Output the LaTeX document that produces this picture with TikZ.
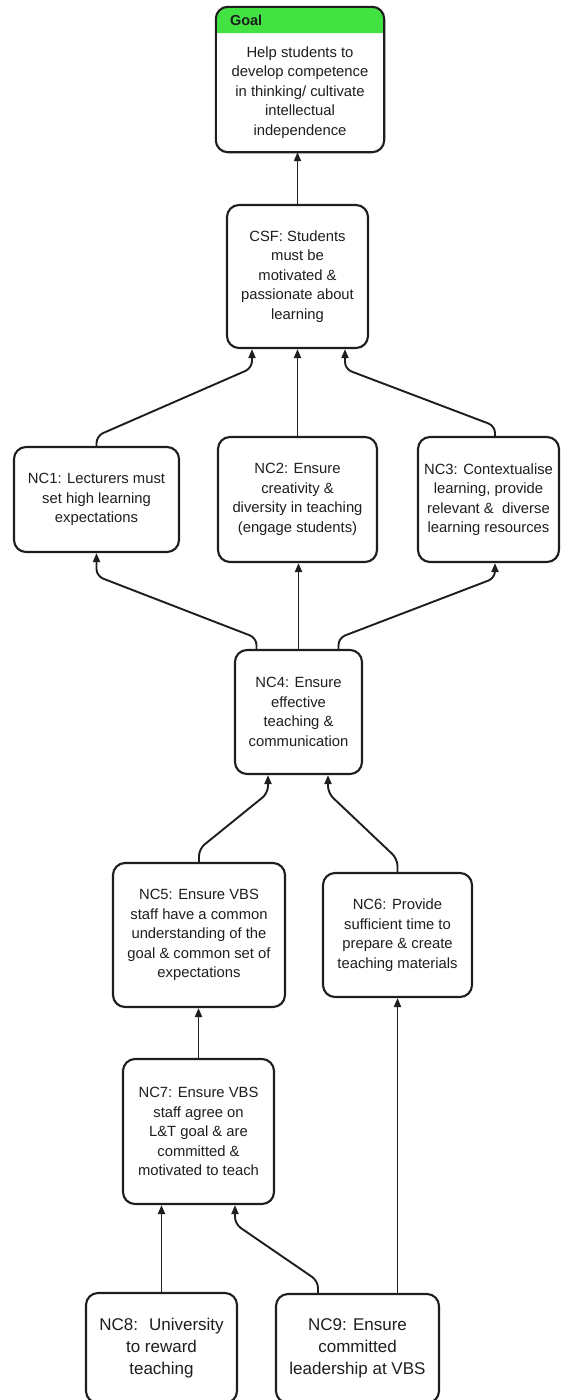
\documentclass[tikz,border=0pt]{standalone}
\usepackage{fontspec}
\setmainfont{Liberation Sans}
\usetikzlibrary{arrows.meta,calc}
\definecolor{ink}{RGB}{30,30,30}
\definecolor{hdrgreen}{RGB}{66,226,66}
\begin{document}
\begin{tikzpicture}[x=1pt,y=-1pt,
  box/.style={draw=ink, line width=2.1pt, rounded corners=12pt, fill=white,
    align=center, text=ink, inner sep=0pt,
    font=\fontsize{14.8}{19.5}\selectfont},
  bigtext/.style={font=\fontsize{17}{22}\selectfont},
  plain/.style={align=center, text=ink, inner sep=0pt,
    font=\fontsize{14.8}{19.5}\selectfont},
  conn/.style={draw=ink, line width=1.9pt, rounded corners=7pt,
    -{Triangle[length=9pt,width=7pt]}},
]
% canvas
\fill[white] (0,0) rectangle (561,1400);
\useasboundingbox (0,0) rectangle (561,1400);

% goal box: green title bar over a text body
\node[plain, minimum width=168pt, minimum height=119pt] (goal) at (300,92.5)
  {Help students to\\develop competence\\in thinking/ cultivate\\intellectual\\independence};
\node[inner sep=0pt, minimum width=168pt, minimum height=26pt] (goalhead) at (300,20) {};
\fill[hdrgreen, rounded corners=12pt] (goalhead.south west) -- (goalhead.north west)
  -- (goalhead.north east) -- (goalhead.south east);
\draw[ink, line width=2.1pt, rounded corners=12pt] (goalhead.north west) rectangle (goal.south east);
\node[anchor=west, inner sep=0pt, text=ink, font=\fontsize{14.5}{17}\selectfont\bfseries]
  (goallabel) at ($(goalhead.west)+(14,0)$) {Goal};

% critical success factor and necessary conditions
\node[box, minimum width=141pt, minimum height=143pt] (csf) at (297.5,276.5)
  {CSF: Students\\must be\\motivated \&\\passionate about\\learning};
\node[box, minimum width=165pt, minimum height=105pt] (nc1) at (96.5,499.5)
  {NC1: Lecturers must\\set high learning\\expectations};
\node[box, minimum width=159pt, minimum height=125pt] (nc2) at (297.5,499.5)
  {NC2: Ensure\\creativity \&\\diversity in teaching\\(engage students)};
\node[box, minimum width=141pt, minimum height=125pt] (nc3) at (488.5,499.5)
  {NC3: Contextualise\\learning, provide\\relevant \&~ diverse\\learning resources};
\node[box, minimum width=127pt, minimum height=124pt] (nc4) at (298.5,712)
  {NC4: Ensure\\effective\\teaching \&\\communication};
\node[box, minimum width=172pt, minimum height=144pt] (nc5) at (199,935)
  {NC5: Ensure VBS\\staff have a common\\understanding of the\\goal \& common set of\\expectations};
\node[box, minimum width=149pt, minimum height=124pt] (nc6) at (397.5,935)
  {NC6: Provide\\sufficient time to\\prepare \& create\\teaching materials};
\node[box, minimum width=151pt, minimum height=145pt] (nc7) at (198.5,1131.5)
  {NC7: Ensure VBS\\staff agree on\\L\&T goal \& are\\committed \&\\motivated to teach};
\node[box, bigtext, minimum width=151pt, minimum height=110pt] (nc8) at (161.5,1348)
  {NC8:~ University\\to reward\\teaching};
\node[box, bigtext, minimum width=163pt, minimum height=109pt] (nc9) at (357.5,1348.5)
  {NC9: Ensure\\committed\\leadership at VBS};

% connectors
\draw[conn] (csf.north) -- (csf.north |- goal.south);

\draw[conn] (nc1.north) -- ++(0,-10) -- ($(csf.south)+(-45.5,19)$) -- ($(csf.south)+(-45.5,0)$);
\draw[conn] (nc2.north) -- (nc2.north |- csf.south);
\draw[conn] ($(nc3.north)+(6.5,0)$) -- ++(0,-10) -- ($(csf.south)+(47.5,20)$) -- ($(csf.south)+(47.5,0)$);

\draw[conn] ($(nc4.north)+(-42,0)$) -- ++(0,-11) -- ($(nc1.south)+(0,23)$) -- (nc1.south);
\draw[conn] (nc4.north) -- (nc4.north |- nc2.south);
\draw[conn] ($(nc4.north)+(40,0)$) -- ++(0,-11) -- ($(nc3.south)+(6.5,15)$) -- ($(nc3.south)+(6.5,0)$);

\draw[conn] (nc5.north) -- ++(0,-13) -- ($(nc4.south)+(-30.5,18)$) -- ($(nc4.south)+(-30.5,0)$);
\draw[conn] (nc6.north) -- ++(0,-13) -- ($(nc4.south)+(29.5,18)$) -- ($(nc4.south)+(29.5,0)$);

\draw[conn] (nc7.north) -- (nc7.north |- nc5.south);

\draw[conn] (nc8.north) -- (nc8.north |- nc7.south);
\draw[conn] ($(nc9.north)+(-39.5,0)$) -- ++(0,-12) -- ($(nc7.south)+(36.5,19)$) -- ($(nc7.south)+(36.5,0)$);
\draw[conn] (nc9.north -| nc6.south) -- (nc6.south);
\end{tikzpicture}
\end{document}
